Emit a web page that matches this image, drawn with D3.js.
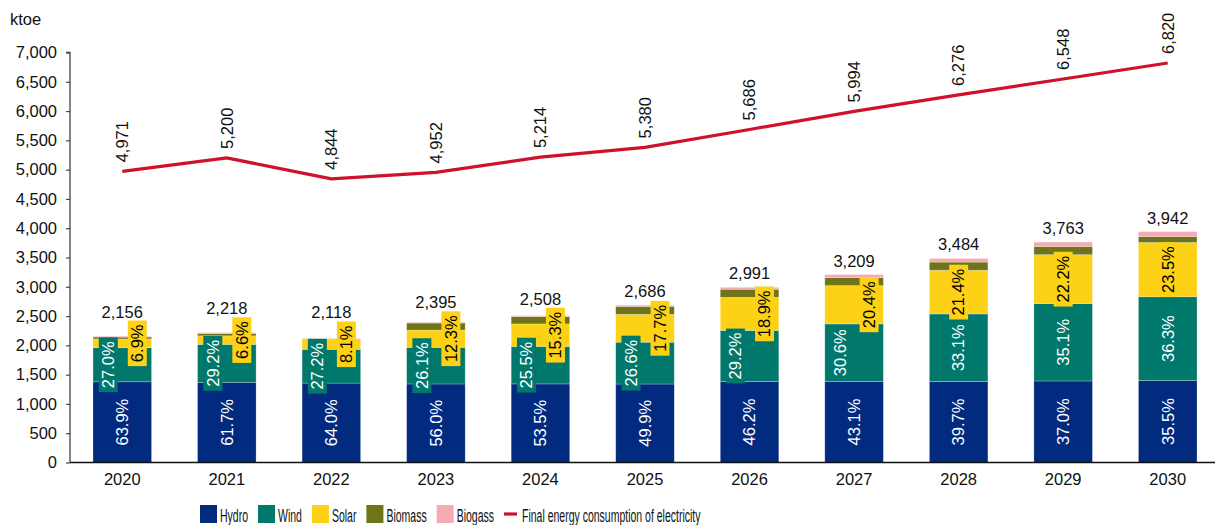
<!DOCTYPE html>
<html>
<head>
<meta charset="utf-8">
<script src="https://cdn.jsdelivr.net/npm/d3@7"></script>
<style>
  body { margin: 0; background: #fff; }
  text { font-family: "Liberation Sans", Arial, sans-serif; }
</style>
</head>
<body>
<svg id="chart"></svg>
<script>
// values in ktoe
const years   = ["2020","2021","2022","2023","2024","2025","2026","2027","2028","2029","2030"];
const hydro   = [1378, 1369, 1356, 1341, 1342, 1340, 1382, 1383, 1383, 1392, 1399];
const wind    = [ 582,  648,  576,  625,  640,  714,  873,  982, 1153, 1321, 1431];
const solar   = [ 149,  146,  172,  295,  384,  475,  565,  655,  746,  835,  926];
const biomass = [  32,   40,    6,  120,  125,  135,  138,  135,  140,  140,  100];
const biogas  = [  15,   15,    8,   14,   17,   22,   33,   54,   62,   75,   86];
const finalConsumption = [4971, 5200, 4844, 4952, 5214, 5380, 5686, 5994, 6276, 6548, 6820];
const yTicks = d3.range(0, 7001, 500);

const series = [
  {name: "Hydro",   vals: hydro,   color: "#022a7f"},
  {name: "Wind",    vals: wind,    color: "#00786c"},
  {name: "Solar",   vals: solar,   color: "#fcd116"},
  {name: "Biomass", vals: biomass, color: "#6e7519"},
  {name: "Biogass", vals: biogas,  color: "#f6aab2"}
];
const lineColor = "#d0102c";

let width = 1217, height = 525,
    plotLeft = 70, plotRight = 1220, plotBottom = 462.5, plotTop = 52.5,
    fs = 16.5;

let svg = d3.select("#chart").attr("width", width).attr("height", height);

let x = d3.scaleBand(years, [plotLeft, plotRight]).paddingInner(0.44).paddingOuter(0.22);
let y = d3.scaleLinear([0, 7000], [plotBottom, plotTop]);
let fmt = d3.format(",");
let pct = d3.format(".1f");

let totals = years.map((d, i) => d3.sum(series, s => s.vals[i]));

// stacked bars
let stack = years.map((yr, i) => {
  let acc = 0;
  return series.map(s => {
    let d = {year: yr, i: i, name: s.name, color: s.color, v: s.vals[i], y0: acc, y1: acc + s.vals[i]};
    acc += s.vals[i];
    return d;
  });
});

let gBars = svg.append("g");
stack.forEach(col => {
  gBars.selectAll(null)
    .data(col)
    .enter()
    .append("rect")
    .attr("x", d => x(d.year))
    .attr("width", x.bandwidth())
    .attr("y", d => y(d.y1))
    .attr("height", d => y(d.y0) - y(d.y1))
    .attr("fill", d => d.color)
    .attr("stroke", "#ffffff")
    .attr("stroke-opacity", 0.35)
    .attr("stroke-width", 0.7);
});

// axes
let yAxis = d3.axisLeft(y).tickValues(yTicks).tickFormat(fmt).tickSize(4).tickPadding(9);
let gy = svg.append("g").attr("transform", "translate(" + plotLeft + ",0)").call(yAxis);
gy.select(".domain").attr("stroke", "#444").attr("stroke-width", 1.3).attr("d", "M-4," + plotTop + "H0V" + plotBottom);
gy.selectAll(".tick line").attr("stroke", "#444").attr("stroke-width", 1.2);
gy.selectAll(".tick text").attr("font-size", fs).attr("fill", "#111")
  .style("font-family", "Liberation Sans, Arial, sans-serif");

let xAxis = d3.axisBottom(x).tickSize(0).tickPadding(10);
let gx = svg.append("g").attr("transform", "translate(0," + plotBottom + ")").call(xAxis);
gx.select(".domain").attr("stroke", "#111").attr("stroke-width", 1.6).attr("d", "M" + plotLeft + ",0H" + 1215);
gx.selectAll(".tick text").attr("font-size", fs).attr("fill", "#111").attr("dy", "0.75em")
  .style("font-family", "Liberation Sans, Arial, sans-serif");

svg.append("text").attr("x", 10).attr("y", 25).attr("font-size", fs).attr("fill", "#111").text("ktoe");

// percent labels (hydro, wind, solar)
let gLab = svg.append("g");
let solarBoxTop = [];
stack.forEach((col, i) => {
  let cx = x(years[i]) + x.bandwidth() / 2;
  let nudge = i < 8;   // early years: wind / solar labels pushed aside
  [0, 1, 2].forEach(k => {
    let d = col[k];
    let share = pct(d.v / totals[i] * 100) + "%";
    let lx = cx, ly = (y(d.y0) + y(d.y1)) / 2;
    if (nudge && k == 1) lx = cx - 14;
    if (nudge && k == 2) lx = cx + 15;
    let g = gLab.append("g").attr("transform", "translate(" + lx + "," + ly + ") rotate(-90)");
    let bg = g.append("rect").attr("fill", d.color);
    let t = g.append("text")
      .attr("text-anchor", "middle")
      .attr("dy", "0.35em")
      .attr("font-size", fs)
      .attr("fill", k == 2 ? "#000" : "#fff")
      .text(share);
    let len = t.node().getComputedTextLength();
    let bw = len + 8, bh = 19;
    bg.attr("x", -bw / 2).attr("y", -bh / 2).attr("width", bw).attr("height", bh);
    if (k == 2) solarBoxTop[i] = ly - bw / 2;
  });
});

// totals above bars
svg.append("g").selectAll("text")
  .data(totals)
  .enter()
  .append("text")
  .attr("x", (d, i) => x(years[i]) + x.bandwidth() / 2)
  .attr("y", (d, i) => Math.min(y(d) - 8, solarBoxTop[i] - 3))
  .attr("text-anchor", "middle")
  .attr("font-size", fs)
  .attr("fill", "#111")
  .text(d => fmt(d));

// final consumption line
let line = d3.line()
  .x((d, i) => x(years[i]) + x.bandwidth() / 2)
  .y(d => y(d));
svg.append("path")
  .datum(finalConsumption)
  .attr("d", line)
  .attr("fill", "none")
  .attr("stroke", lineColor)
  .attr("stroke-width", 3.2);

svg.append("g").selectAll("text")
  .data(finalConsumption)
  .enter()
  .append("text")
  .attr("transform", (d, i) => "translate(" + (x(years[i]) + x.bandwidth() / 2) + "," + (y(d) - 9) + ") rotate(-90)")
  .attr("dy", "0.35em")
  .attr("font-size", fs)
  .attr("fill", "#111")
  .text(d => fmt(d));

// legend (narrow lettering, as in the original)
let legend = [...series.map(s => ({name: s.name, color: s.color, type: "box"})),
              {name: "Final energy consumption of electricity", color: lineColor, type: "line"}];
let legX = 200, squeeze = 0.6;
let gLeg = svg.append("g");
legend.forEach(l => {
  if (l.type == "box") {
    gLeg.append("rect").attr("x", legX).attr("y", 505).attr("width", 17).attr("height", 18).attr("fill", l.color);
    legX += 20;
  } else {
    gLeg.append("line").attr("x1", legX).attr("x2", legX + 13).attr("y1", 514).attr("y2", 514)
      .attr("stroke", l.color).attr("stroke-width", 3.2);
    legX += 18;
  }
  let t = gLeg.append("text")
    .attr("transform", "translate(" + legX + ",521.5) scale(" + squeeze + ",1)")
    .attr("font-size", 17.5)
    .attr("fill", "#111")
    .text(l.name);
  legX += t.node().getComputedTextLength() * squeeze + 10;
});
</script>
</body>
</html>
